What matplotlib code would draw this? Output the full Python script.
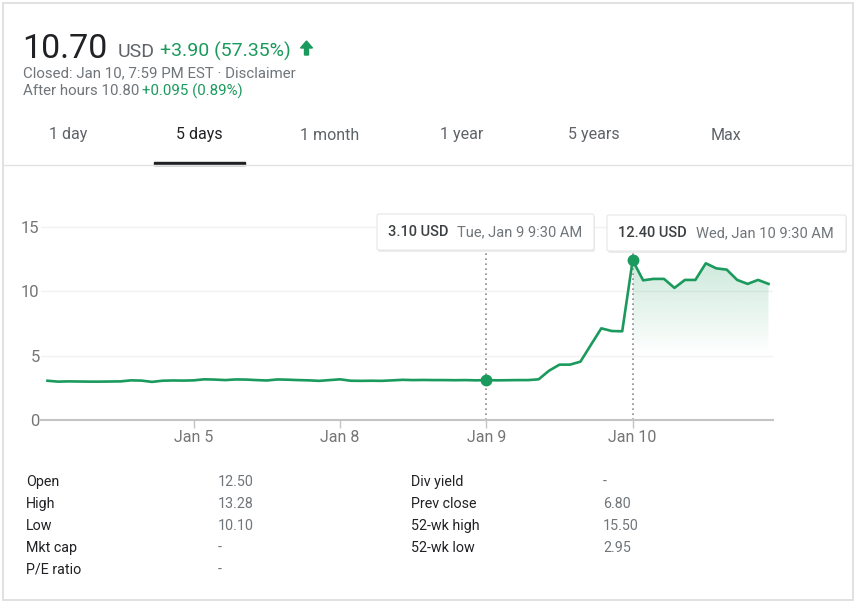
import numpy as np
import matplotlib
matplotlib.use("Agg")
from matplotlib import pyplot as plt
from matplotlib.patches import Rectangle, FancyBboxPatch, Polygon

plt.rcParams['font.family'] = ['Roboto', 'DejaVu Sans']

# --- data -------------------------------------------------------------
points_per_day = 14
tick_days = ["Jan 5", "Jan 8", "Jan 9", "Jan 10"]   # Jan 4 is day 0
prices = [
    3.05, 2.98, 3.00, 2.99, 2.98, 2.98, 2.99, 3.00, 3.08, 3.06, 2.96, 3.05, 3.07, 3.06,   # Jan 4
    3.08, 3.16, 3.14, 3.10, 3.15, 3.14, 3.10, 3.07, 3.15, 3.13, 3.10, 3.08, 3.04, 3.10,   # Jan 5
    3.16, 3.05, 3.04, 3.05, 3.04, 3.08, 3.12, 3.10, 3.11, 3.10, 3.10, 3.09, 3.10, 3.08,   # Jan 8
    3.10, 3.08, 3.09, 3.10, 3.10, 3.16, 3.83, 4.30, 4.30, 4.53, 5.83, 7.12, 6.91, 6.89,   # Jan 9
    12.40, 10.85, 10.96, 10.96, 10.26, 10.88, 10.88, 12.17, 11.78, 11.68, 10.88, 10.57,
    10.88, 10.57,                                                                          # Jan 10
]
y_ticks = [0, 5, 10, 15]

tooltips = [  # (point index, price text, time text)
    (42, "3.10 USD", "Tue, Jan 9 9:30 AM"),
    (56, "12.40 USD", "Wed, Jan 10 9:30 AM"),
]

price_now = "10.70"
currency = "USD"
change = "+3.90 (57.35%)"
closed_text = "Closed: Jan 10, 7:59 PM EST · Disclaimer"
after_hours = "After hours 10.80"
after_change = "+0.095 (0.89%)"

tabs = ["1 day", "5 days", "1 month", "1 year", "5 years", "Max"]
active_tab = "5 days"

left_labels = ["Open", "High", "Low", "Mkt cap", "P/E ratio"]
left_values = ["12.50", "13.28", "10.10", "-", "-"]
right_labels = ["Div yield", "Prev close", "52-wk high", "52-wk low"]
right_values = ["-", "6.80", "15.50", "2.95"]

GREEN = "#1a9a5c"
DARK = "#202124"
GRAY = "#70757a"

W, H = 861, 604
fig = plt.figure(figsize=(W / 100, H / 100), dpi=100)

# --- chart ------------------------------------------------------------
ax = fig.add_axes([41 / W, (H - 420) / H, 732 / W, 206 / H])
x = np.arange(len(prices))
y = np.array(prices)
ax.set_xlim(-0.62, 69.43)
ax.set_ylim(0, 16)

for t in y_ticks[1:]:
    ax.axhline(t, color="#f1f1f1", lw=1, zorder=0)

ax.plot(x, y, color=GREEN, lw=1.9, zorder=3, solid_joinstyle="round")

# gradient area after the Jan 10 open
start = tooltips[1][0]
xs, ys = x[start:], y[start:]
poly_pts = np.vstack([np.column_stack([xs, ys]), [[xs[-1], 5], [xs[0], 5]]])
clip = Polygon(poly_pts, closed=True, facecolor="none", edgecolor="none")
ax.add_patch(clip)
grad = np.zeros((100, 1, 4))
grad[..., :3] = matplotlib.colors.to_rgb(GREEN)
grad[..., 3] = np.linspace(0.22, 0.0, 100)[:, None]
im = ax.imshow(grad, extent=[xs[0], xs[-1], 5, ys.max()], aspect="auto",
               origin="upper", zorder=1)
im.set_clip_path(clip)

for idx, _, _ in tooltips:
    ax.plot([idx, idx], [0, 13.2], color="#8a8a8a", lw=1.2, ls=(0, (1, 2)),
            clip_on=False, zorder=2)
    ax.plot(idx, prices[idx], "o", color=GREEN, ms=7.5, zorder=4, clip_on=False)

for s in ["top", "right", "left"]:
    ax.spines[s].set_visible(False)
ax.spines["bottom"].set_color("#c4c4c4")
ax.spines["bottom"].set_linewidth(1.5)

ax.set_xticks([points_per_day * (i + 1) for i in range(len(tick_days))])
ax.set_xticklabels(tick_days)
ax.set_yticks(y_ticks)
ax.tick_params(axis="x", length=6, width=1, color="#c4c4c4", labelsize=11.5,
               labelcolor="#757575", pad=1)
ax.tick_params(axis="y", length=0, labelsize=12, labelcolor="#757575", pad=1)

# --- overlay in pixel coordinates -------------------------------------
ov = fig.add_axes([0, 0, 1, 1], zorder=5)
ov.set_xlim(0, W)
ov.set_ylim(H, 0)
ov.axis("off")
ov.patch.set_alpha(0)

ov.add_patch(Rectangle((3, 3), 850, 597, fill=False, edgecolor="#dcdcdc", lw=1.2))

# header
ov.text(22, 58, price_now, fontsize=24.5, color=DARK, va="baseline")
ov.text(118, 57, currency, fontsize=14, color="#5f6368", va="baseline")
ov.text(160, 57, change, fontsize=14, color=GREEN, va="baseline")
ov.add_patch(Polygon([[306.5, 41], [300.5, 48], [304.5, 48], [304.5, 55],
                      [308.5, 55], [308.5, 48], [312.5, 48]],
                     closed=True, color=GREEN))
ov.text(23, 73, closed_text, fontsize=10.8, color=GRAY, va="center")
ov.text(23, 91, after_hours, fontsize=10.8, color=GRAY, va="center")
ov.text(142, 91, after_change, fontsize=10.8, color=GREEN, va="center")

# tabs
tab_x = [68, 199, 330, 462, 594, 726]
for tx, name in zip(tab_x, tabs):
    ov.text(tx, 135, name, fontsize=11.5, ha="center", va="center",
            color=DARK if name == active_tab else "#5f6368")
ov.plot([3, 853], [164.5, 164.5], color="#e3e3e3", lw=1)
ov.add_patch(Rectangle((154, 162), 91, 3, color=DARK))

# tooltips
boxes = [(377, 214, 217, 36, 388, 457), (607, 215, 239, 36, 618, 696)]
for (bx, by, bw, bh, t1, t2), (_, ptxt, ttxt) in zip(boxes, tooltips):
    ov.add_patch(FancyBboxPatch((bx + 1, by + 2), bw, bh, boxstyle="round,pad=0,rounding_size=2",
                                facecolor="#000000", alpha=0.08, edgecolor="none"))
    ov.add_patch(FancyBboxPatch((bx, by), bw, bh, boxstyle="round,pad=0,rounding_size=2",
                                facecolor="white", edgecolor="#e6e6e6", lw=0.8))
    ov.text(t1, by + bh / 2, ptxt, fontsize=10.5, color="#3c4043", va="center",
            fontweight="medium")
    ov.text(t2, by + bh / 2, ttxt, fontsize=10.5, color=GRAY, va="center")

# stats table
for i, (lab, val) in enumerate(zip(left_labels, left_values)):
    ov.text(26, 482 + 22 * i, lab, fontsize=10.3, color=DARK, va="center")
    ov.text(218, 482 + 22 * i, val, fontsize=10.3, color=GRAY, va="center")
for i, (lab, val) in enumerate(zip(right_labels, right_values)):
    ov.text(411, 482 + 22 * i, lab, fontsize=10.3, color=DARK, va="center")
    ov.text(603, 482 + 22 * i, val, fontsize=10.3, color=GRAY, va="center")

fig.savefig("out.png", dpi=100)
